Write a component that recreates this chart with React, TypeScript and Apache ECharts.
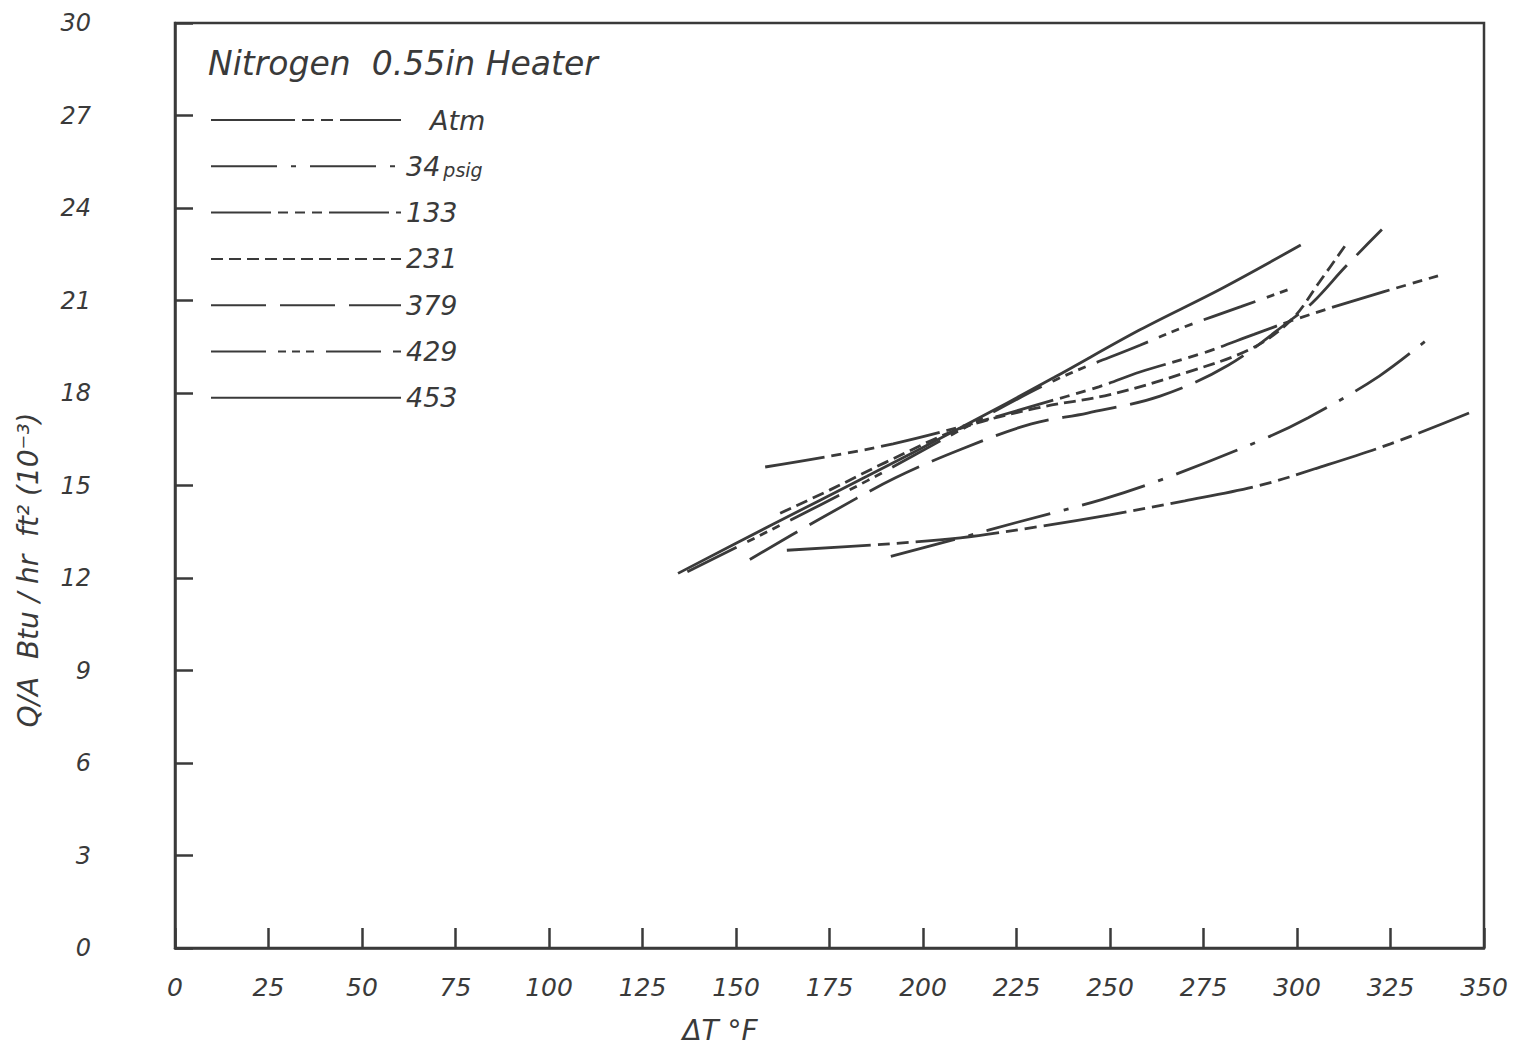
import React, { useEffect, useRef } from "react";
import * as echarts from "echarts";

// Nitrogen boiling curves, 0.55 in heater: [ΔT °F, Q/A (10^-3 Btu/hr ft²)]
const legendNames = ["Atm", "34 psig", "133", "231", "379", "429", "453"];

const atmCurve = [
  [163.6, 12.9], [190, 13.1], [210, 13.3], [230, 13.65], [250, 14.05],
  [270, 14.5], [290, 15.0], [305, 15.55], [325, 16.35], [346, 17.35],
];
const psig34Curve = [
  [191.4, 12.7], [210, 13.3], [225, 13.8], [248, 14.55], [264, 15.2],
  [289, 16.4], [303, 17.2], [322, 18.55], [336.5, 19.9],
];
const psig133Curve = [
  [157.8, 15.6], [175, 15.95], [192, 16.35], [210, 16.9], [230, 17.6],
  [247, 18.2], [258, 18.68], [275, 19.3], [288.5, 19.9], [298.7, 20.35],
  [314, 20.95], [337.7, 21.8],
];
const psig231Curve = [
  [161.8, 14.1], [175, 14.85], [190, 15.75], [210, 16.85], [230, 17.5],
  [250, 17.95], [270, 18.65], [288, 19.45], [298.7, 20.4], [306, 21.6],
  [313.4, 22.87],
];
const psig379Curve = [
  [153.7, 12.6], [171.9, 13.88], [192.5, 15.24], [210.7, 16.2], [229, 17.0],
  [244, 17.35], [263.4, 17.9], [281.6, 18.9], [298.7, 20.4], [304.3, 20.95],
  [313, 22.1], [322.7, 23.3],
];
const psig429Curve = [
  [137, 12.2], [160, 13.6], [185, 15.15], [210, 16.8], [235, 18.4],
  [258, 19.55], [270, 20.15], [285, 20.8], [298.7, 21.4],
];
const psig453Curve = [
  [134.5, 12.15], [160, 13.75], [185, 15.3], [210, 16.87], [235, 18.5],
  [258, 20.05], [280, 21.4], [301, 22.8],
];

const curves = [atmCurve, psig34Curve, psig133Curve, psig231Curve, psig379Curve, psig429Curve, psig453Curve];

// dash patterns for each pressure
const dashPatterns: (number[] | "solid")[] = [
  [84, 7, 12, 7, 12, 7],
  [66, 14, 5, 14],
  [60, 7, 10, 7, 10, 7, 10, 7],
  [12, 6],
  [55, 14],
  [55, 12, 8, 6, 8, 6, 8, 12],
  "solid",
];

const xTicks = { min: 0, max: 350, interval: 25 };
const yTicks = { min: 0, max: 30, interval: 3 };

const INK = "#3a3a3a";
const FONT = "'DejaVu Sans', 'Liberation Sans', sans-serif";

export default function App() {
  const ref = useRef<HTMLDivElement>(null);

  useEffect(() => {
    if (!ref.current) return;
    document.body.style.margin = "0";
    const chart = echarts.init(ref.current, undefined, { renderer: "svg" });

    const series = legendNames.map((name, i) => ({
      name,
      type: "line",
      data: curves[i],
      smooth: 0.35,
      symbol: "none",
      lineStyle: { color: INK, width: 2.8, type: dashPatterns[i] },
      itemStyle: { color: INK },
      emphasis: { disabled: true },
    }));

    chart.setOption({
      animation: false,
      backgroundColor: "#ffffff",
      title: {
        text: "Nitrogen  0.55in Heater",
        left: 203,
        top: 42,
        textStyle: { fontFamily: FONT, fontStyle: "italic", fontWeight: "normal", fontSize: 33, color: INK },
      },
      legend: {
        orient: "vertical",
        left: 205,
        top: 101,
        itemWidth: 190,
        itemHeight: 14,
        itemGap: 18.3,
        selectedMode: false,
        data: legendNames,
        itemStyle: { color: "rgba(0,0,0,0)", borderColor: "rgba(0,0,0,0)", borderWidth: 0 },
        formatter: (name: string) => {
          if (name === "Atm") return "{pad|Atm}";
          if (name === "34 psig") return "34{s|psig}";
          return name;
        },
        textStyle: {
          fontFamily: FONT,
          fontStyle: "italic",
          fontSize: 27,
          lineHeight: 28,
          color: INK,
          rich: {
            pad: { fontFamily: FONT, fontStyle: "italic", fontSize: 27, lineHeight: 28, color: INK, padding: [0, 0, 0, 24] },
            s: { fontFamily: FONT, fontStyle: "italic", fontSize: 19, lineHeight: 28, color: INK, padding: [8, 0, 0, 3] },
          },
        },
      },
      grid: {
        left: 175,
        top: 23,
        right: 42,
        bottom: 101,
        show: true,
        borderColor: INK,
        borderWidth: 2.5,
      },
      xAxis: {
        type: "value",
        ...xTicks,
        axisLine: { show: true, lineStyle: { color: INK, width: 2.5 } },
        axisTick: { show: true, inside: true, length: 20, lineStyle: { color: INK, width: 2.5 } },
        splitLine: { show: false },
        axisLabel: {
          margin: 27,
          fontFamily: FONT,
          fontStyle: "italic",
          fontSize: 25,
          color: INK,
        },
      },
      yAxis: {
        type: "value",
        ...yTicks,
        axisLine: { show: true, lineStyle: { color: INK, width: 2.5 } },
        axisTick: { show: true, inside: true, length: 18, lineStyle: { color: INK, width: 2.5 } },
        splitLine: { show: false },
        axisLabel: {
          margin: 84,
          fontFamily: FONT,
          fontStyle: "italic",
          fontSize: 24,
          color: INK,
        },
      },
      graphic: [
        {
          type: "text",
          x: 28,
          y: 570,
          rotation: Math.PI / 2,
          style: {
            text: "Q/A  Btu / hr  ft² (10⁻³)",
            fontFamily: FONT,
            fontStyle: "italic",
            fontSize: 28,
            fill: INK,
            textAlign: "center",
            textVerticalAlign: "middle",
          },
        },
        {
          type: "text",
          x: 720,
          y: 1030,
          style: {
            text: "ΔT °F",
            fontFamily: FONT,
            fontStyle: "italic",
            fontSize: 28,
            fill: INK,
            textAlign: "center",
            textVerticalAlign: "middle",
          },
        },
      ],
      series,
    });

    return () => chart.dispose();
  }, []);

  return <div ref={ref} style={{ width: 1526, height: 1049 }} />;
}
